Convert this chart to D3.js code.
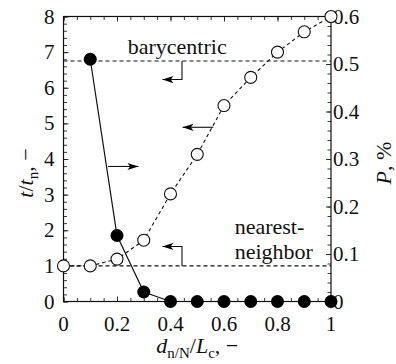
<!DOCTYPE html>
<html>
<head>
<meta charset="utf-8">
<script src="https://cdn.jsdelivr.net/npm/d3@7"></script>
</head>
<body style="margin:0">
<svg id="chart" width="396" height="364"></svg>
<script>
// Relative distance d_{n/N}/L_c
const distance = [0, 0.1, 0.2, 0.3, 0.4, 0.5, 0.6, 0.7, 0.8, 0.9, 1.0];
// Computing time ratio t/t_n (left axis, open circles)
const timeRatio = [1.0, 1.0, 1.19, 1.72, 3.02, 4.13, 5.5, 6.29, 7.0, 7.57, 8.0];
// Error P, % (right axis, filled circles), starting at d = 0.1
const errDistance = [0.1, 0.2, 0.3, 0.4, 0.5, 0.6, 0.7, 0.8, 0.9, 1.0];
const errorP = [0.51, 0.139, 0.02, 0, 0, 0, 0, 0, 0, 0];
// Reference levels of the two classic schemes (t/t_n)
const barycentricLevel = 6.75;
const nearestLevel = 1.0;

const xTicks = [0, 0.2, 0.4, 0.6, 0.8, 1];
const yLeftTicks = [0, 1, 2, 3, 4, 5, 6, 7, 8];
const yRightTicks = [0, 0.1, 0.2, 0.3, 0.4, 0.5, 0.6];

const svg = d3.select("#chart");
const L = 63.5, R = 331, T = 16.5, B = 301.5;

const x = d3.scaleLinear().domain([0, 1]).range([L, R]);
const yL = d3.scaleLinear().domain([0, 8]).range([B, T]);
const yR = d3.scaleLinear().domain([0, 0.6]).range([B, T]);

const fmt = d => (d === 0 ? "0" : d === 1 ? "1" : d3.format(".1f")(d));
const range = (a, b, s) => d3.range(Math.round((b - a) / s) + 1).map(i => +(a + i * s).toFixed(4));

// every text node gets the serif face directly
function addText(parent, size) {
  return parent.append("text")
    .style("font-family", "'Times New Roman'")
    .style("font-size", size)
    .attr("fill", "#111");
}

// inward ticks drawn with d3 axes (lines only)
function ticks(axis, scale, values, pos, len) {
  svg.append("g").attr("transform", pos)
    .call(axis(scale).tickValues(values).tickSize(-len).tickFormat(""))
    .call(g => g.select(".domain").remove())
    .call(g => g.selectAll("text").remove())
    .call(g => g.selectAll("line").attr("stroke", "#222").attr("stroke-width", 0.9));
}
ticks(d3.axisBottom, x, range(0, 1, 0.05), `translate(0,${B})`, 3.5);
ticks(d3.axisTop, x, range(0, 1, 0.05), `translate(0,${T})`, 3.5);
ticks(d3.axisLeft, yL, range(0, 8, 0.2), `translate(${L},0)`, 3.5);
ticks(d3.axisRight, yR, range(0, 0.6, 0.02), `translate(${R},0)`, 3.5);
ticks(d3.axisBottom, x, xTicks, `translate(0,${B})`, 5);
ticks(d3.axisTop, x, xTicks, `translate(0,${T})`, 5);
ticks(d3.axisLeft, yL, yLeftTicks, `translate(${L},0)`, 5);
ticks(d3.axisRight, yR, yRightTicks, `translate(${R},0)`, 5);

// tick labels
const tickSize = "21px";
const gLab = svg.append("g");
xTicks.forEach(v => addText(gLab, tickSize).attr("x", x(v)).attr("y", B + 29)
  .attr("text-anchor", "middle").text(fmt(v)));
yLeftTicks.forEach(v => addText(gLab, tickSize).attr("x", L - 9).attr("y", yL(v) + 7)
  .attr("text-anchor", "end").text(d3.format("d")(v)));
yRightTicks.forEach(v => addText(gLab, tickSize).attr("x", R + 2).attr("y", yR(v) + 7)
  .attr("text-anchor", "start").text(fmt(v)));

// frame
svg.append("rect").attr("x", L).attr("y", T).attr("width", R - L).attr("height", B - T)
  .attr("fill", "none").attr("stroke", "#111").attr("stroke-width", 1.2);

// reference levels
[barycentricLevel, nearestLevel].forEach(v => {
  svg.append("line").attr("x1", L).attr("x2", R).attr("y1", yL(v)).attr("y2", yL(v))
    .attr("stroke", "#111").attr("stroke-width", 1.1).attr("stroke-dasharray", "4,3");
});

// time ratio curve
const lineT = d3.line().x((d, i) => x(distance[i])).y(d => yL(d));
svg.append("path").attr("d", lineT(timeRatio)).attr("fill", "none")
  .attr("stroke", "#111").attr("stroke-width", 1.1).attr("stroke-dasharray", "3.5,3");

// error curve
const lineP = d3.line().x((d, i) => x(errDistance[i])).y(d => yR(d));
svg.append("path").attr("d", lineP(errorP)).attr("fill", "none")
  .attr("stroke", "#111").attr("stroke-width", 1.2);

svg.append("g").selectAll("circle").data(timeRatio).join("circle")
  .attr("cx", (d, i) => x(distance[i])).attr("cy", d => yL(d)).attr("r", 6)
  .attr("fill", "#fff").attr("stroke", "#111").attr("stroke-width", 1.1);

svg.append("g").selectAll("circle").data(errorP).join("circle")
  .attr("cx", (d, i) => x(errDistance[i])).attr("cy", d => yR(d)).attr("r", 6.5)
  .attr("fill", "#000");

// arrows pointing to the relevant axis
function arrow(points) {
  const pts = points.map(p => [x(p[0]), yL(p[1])]);
  svg.append("path").attr("d", d3.line()(pts)).attr("fill", "none")
    .attr("stroke", "#111").attr("stroke-width", 1.1);
  const [a, b] = pts.slice(-2);
  const ang = Math.atan2(b[1] - a[1], b[0] - a[0]);
  const len = 11, w = 3.6;
  const head = [
    [b[0], b[1]],
    [b[0] - len * Math.cos(ang) + w * Math.sin(ang), b[1] - len * Math.sin(ang) - w * Math.cos(ang)],
    [b[0] - 0.75 * len * Math.cos(ang), b[1] - 0.75 * len * Math.sin(ang)],
    [b[0] - len * Math.cos(ang) - w * Math.sin(ang), b[1] - len * Math.sin(ang) + w * Math.cos(ang)]
  ];
  svg.append("path").attr("d", d3.line()(head) + "Z").attr("fill", "#000");
}
arrow([[0.443, barycentricLevel], [0.443, 6.23], [0.37, 6.23]]);
arrow([[0.56, 4.89], [0.445, 4.89]]);
arrow([[0.167, 3.79], [0.28, 3.79]]);
arrow([[0.443, nearestLevel], [0.443, 1.545], [0.37, 1.545]]);

// annotations
const annSize = "22px";
addText(svg, annSize).attr("x", x(0.425)).attr("y", yL(6.95)).attr("text-anchor", "middle").text("barycentric");
addText(svg, annSize).attr("x", x(0.64)).attr("y", yL(1.9)).text("nearest-");
addText(svg, annSize).attr("x", x(0.64)).attr("y", yL(1.2)).text("neighbor");

// axis titles
const titleSize = "22px";
const tl = addText(svg, titleSize).attr("transform", `translate(33,${(T + B) / 2 + 14}) rotate(-90)`)
  .attr("text-anchor", "middle");
tl.append("tspan").style("font-style", "italic").text("t");
tl.append("tspan").text("/");
tl.append("tspan").style("font-style", "italic").text("t");
tl.append("tspan").attr("dy", 5).style("font-size", "15px").text("n");
tl.append("tspan").attr("dy", -5).text(", \u2212");

const tr = addText(svg, titleSize).attr("transform", `translate(391,${(T + B) / 2 + 4}) rotate(-90)`)
  .attr("text-anchor", "middle");
tr.append("tspan").style("font-style", "italic").text("P");
tr.append("tspan").text(", %");

const tb = addText(svg, titleSize).attr("transform", `translate(${(L + R) / 2},353)`)
  .attr("text-anchor", "middle");
tb.append("tspan").style("font-style", "italic").text("d");
tb.append("tspan").attr("dy", 5).style("font-size", "15px").text("n/N");
tb.append("tspan").attr("dy", -5).text("/");
tb.append("tspan").style("font-style", "italic").text("L");
tb.append("tspan").attr("dy", 5).style("font-size", "15px").text("c");
tb.append("tspan").attr("dy", -5).text(", \u2212");
</script>
</body>
</html>
